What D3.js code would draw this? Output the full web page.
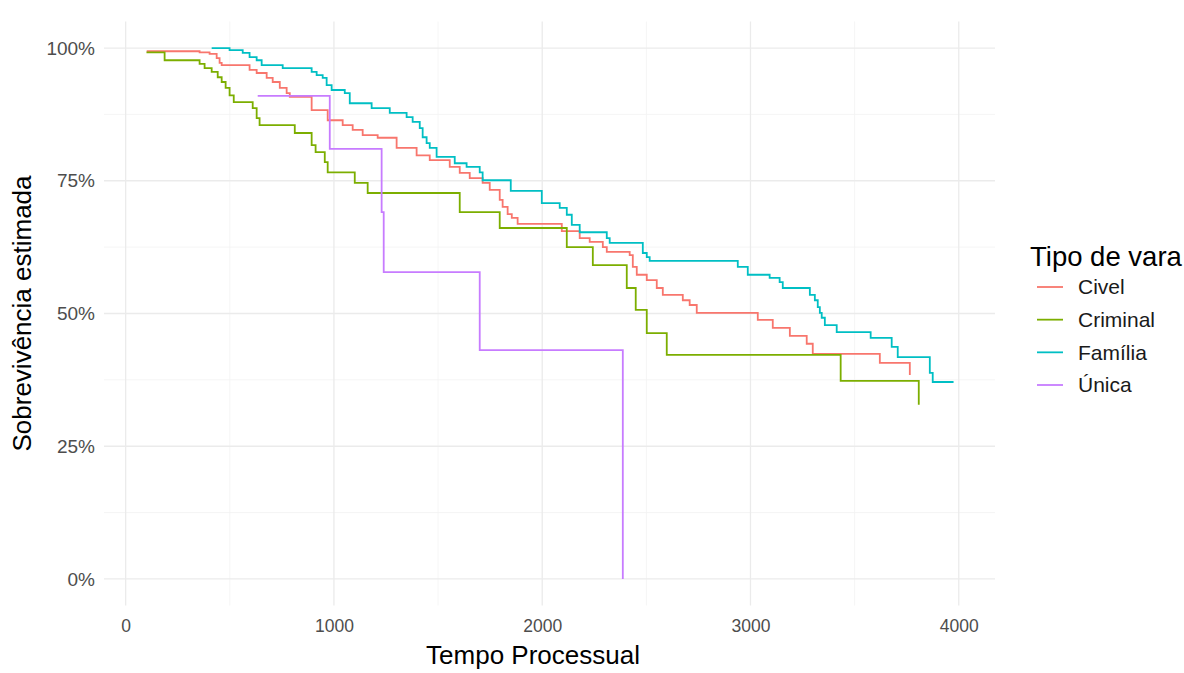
<!DOCTYPE html>
<html>
<head>
<meta charset="utf-8">
<script src="https://cdn.jsdelivr.net/npm/d3@7"></script>
<style>
  html, body { margin: 0; padding: 0; background: #ffffff; }
  svg { display: block; font-family: "Liberation Sans", Arial, sans-serif; }
</style>
</head>
<body>
<svg id="chart" width="1184" height="673"></svg>
<script>
const seriesNames = ["Civel", "Criminal", "Família", "Única"];
const seriesColors = ["#F8766D", "#7CAE00", "#00BFC4", "#C77CFF"];

const civelTime = [101, 355, 403, 437, 451, 461, 595, 629, 677, 706, 740, 773, 788, 893, 970, 1042, 1090, 1138, 1210, 1301, 1397, 1460, 1556, 1604, 1652, 1714, 1748, 1796, 1810, 1834, 1854, 1882, 2094, 2180, 2228, 2291, 2310, 2420, 2435, 2454, 2502, 2550, 2579, 2675, 2708, 2742, 3035, 3107, 3189, 3270, 3299, 3621, 3765];
const civelSurv = [0.994, 0.992, 0.989, 0.981, 0.972, 0.968, 0.959, 0.953, 0.944, 0.936, 0.925, 0.915, 0.908, 0.883, 0.864, 0.855, 0.846, 0.836, 0.831, 0.812, 0.798, 0.789, 0.776, 0.765, 0.755, 0.746, 0.733, 0.714, 0.701, 0.687, 0.680, 0.669, 0.655, 0.642, 0.635, 0.625, 0.616, 0.610, 0.588, 0.573, 0.563, 0.548, 0.535, 0.525, 0.516, 0.501, 0.488, 0.473, 0.458, 0.443, 0.424, 0.407, 0.384];

const criminalTime = [100, 187, 355, 379, 413, 442, 461, 480, 499, 519, 610, 629, 643, 812, 893, 912, 956, 970, 1100, 1162, 1604, 1796, 2118, 2243, 2406, 2449, 2502, 2598, 3433, 3808];
const criminalSurv = [0.992, 0.977, 0.970, 0.962, 0.955, 0.945, 0.936, 0.925, 0.911, 0.898, 0.887, 0.868, 0.855, 0.840, 0.817, 0.804, 0.785, 0.766, 0.746, 0.727, 0.691, 0.661, 0.625, 0.591, 0.548, 0.507, 0.463, 0.422, 0.373, 0.328];

const familiaTime = [413, 499, 562, 595, 629, 653, 754, 893, 917, 946, 965, 989, 1052, 1076, 1181, 1268, 1349, 1378, 1412, 1426, 1445, 1460, 1493, 1580, 1637, 1700, 1714, 1849, 1998, 2084, 2118, 2142, 2180, 2310, 2324, 2483, 2502, 2516, 2939, 2987, 3092, 3140, 3155, 3285, 3309, 3323, 3333, 3342, 3357, 3414, 3577, 3678, 3707, 3861, 3875];
const familiaSurv = [1.000, 0.996, 0.991, 0.983, 0.977, 0.968, 0.962, 0.955, 0.949, 0.944, 0.930, 0.921, 0.915, 0.896, 0.887, 0.878, 0.870, 0.861, 0.849, 0.832, 0.821, 0.812, 0.795, 0.783, 0.776, 0.766, 0.751, 0.731, 0.708, 0.699, 0.686, 0.667, 0.653, 0.642, 0.633, 0.614, 0.606, 0.599, 0.588, 0.573, 0.567, 0.559, 0.548, 0.535, 0.525, 0.512, 0.501, 0.492, 0.478, 0.465, 0.454, 0.437, 0.418, 0.388, 0.371];

const unicaTime = [634, 980, 1229, 1239, 1700, 2387];
const unicaSurv = [0.910, 0.810, 0.691, 0.578, 0.431, 0.000];

// last follow-up time of each group (end of the step line)
const endTimes = [3765, 3808, 3975, 2387];

const xTicks = [0, 1000, 2000, 3000, 4000];
const xMinor = [500, 1500, 2500, 3500];
const yTicks = [0, 0.25, 0.5, 0.75, 1];
const yMinor = [0.125, 0.375, 0.625, 0.875];
const xTitle = "Tempo Processual";
const yTitle = "Sobrevivência estimada";
const legendTitle = "Tipo de vara";

// ---- Build ----
const times = [civelTime, criminalTime, familiaTime, unicaTime];
const survs = [civelSurv, criminalSurv, familiaSurv, unicaSurv];
const series = seriesNames.map((name, i) => {
  const pts = times[i].map((t, j) => ({t: t, s: survs[i][j]}));
  const last = pts[pts.length - 1];
  if (endTimes[i] > last.t) pts.push({t: endTimes[i], s: last.s});
  return {name: name, color: seriesColors[i], pts: pts};
});

const svg = d3.select("#chart");
svg.append("rect").attr("width", 1184).attr("height", 673).attr("fill", "#ffffff");

const panel = {left: 104, right: 995, top: 21.5, bottom: 605.5};
const x = d3.scaleLinear().domain([-104, 4174]).range([panel.left, panel.right]);
const y = d3.scaleLinear().domain([-0.05, 1.05]).range([panel.bottom, panel.top]);

// grid
const grid = svg.append("g");
grid.selectAll(".xminor").data(xMinor).enter().append("line")
  .attr("x1", d => x(d)).attr("x2", d => x(d))
  .attr("y1", panel.top).attr("y2", panel.bottom)
  .attr("stroke", "#f2f2f2").attr("stroke-width", 0.8);
grid.selectAll(".yminor").data(yMinor).enter().append("line")
  .attr("y1", d => y(d)).attr("y2", d => y(d))
  .attr("x1", panel.left).attr("x2", panel.right)
  .attr("stroke", "#f2f2f2").attr("stroke-width", 0.8);
grid.selectAll(".xmajor").data(xTicks).enter().append("line")
  .attr("x1", d => x(d)).attr("x2", d => x(d))
  .attr("y1", panel.top).attr("y2", panel.bottom)
  .attr("stroke", "#ebebeb").attr("stroke-width", 1.3);
grid.selectAll(".ymajor").data(yTicks).enter().append("line")
  .attr("y1", d => y(d)).attr("y2", d => y(d))
  .attr("x1", panel.left).attr("x2", panel.right)
  .attr("stroke", "#ebebeb").attr("stroke-width", 1.3);

// axes (labels only, theme_minimal style)
const xAxis = d3.axisBottom(x).tickValues(xTicks).tickSize(0).tickPadding(0).tickFormat(d3.format("d"));
const gx = svg.append("g").attr("transform", `translate(0,${panel.bottom + 21})`).call(xAxis);
gx.select(".domain").remove();
gx.selectAll("text").attr("fill", "#4d4d4d").attr("font-size", 17.5)
  .attr("font-family", "Liberation Sans, Arial, sans-serif").attr("dy", "0.32em").attr("y", 0);

const yAxis = d3.axisLeft(y).tickValues(yTicks).tickSize(0).tickPadding(0).tickFormat(d3.format(".0%"));
const gy = svg.append("g").attr("transform", `translate(95,0)`).call(yAxis);
gy.select(".domain").remove();
gy.selectAll("text").attr("fill", "#4d4d4d").attr("font-size", 19)
  .attr("font-family", "Liberation Sans, Arial, sans-serif");

// step lines
const line = d3.line().x(d => x(d.t)).y(d => y(d.s)).curve(d3.curveStepAfter);
svg.append("g").selectAll("path").data(series).enter().append("path")
  .attr("d", d => line(d.pts))
  .attr("fill", "none")
  .attr("stroke", d => d.color)
  .attr("stroke-width", 1.8);

// titles
svg.append("text").attr("x", 533).attr("y", 664)
  .attr("text-anchor", "middle").attr("font-size", 26).attr("fill", "#000")
  .text(xTitle);
svg.append("text").attr("transform", `translate(31,${(panel.top + panel.bottom) / 2}) rotate(-90)`)
  .attr("text-anchor", "middle").attr("font-size", 26).attr("fill", "#000")
  .text(yTitle);

// legend
const lg = svg.append("g");
lg.append("text").attr("x", 1030).attr("y", 266).attr("font-size", 27.5).attr("fill", "#000").text(legendTitle);
const ly = d3.scalePoint().domain(seriesNames).range([287, 385]);
const items = lg.selectAll(".item").data(series).enter().append("g");
items.append("line")
  .attr("x1", 1037).attr("x2", 1063)
  .attr("y1", d => ly(d.name)).attr("y2", d => ly(d.name))
  .attr("stroke", d => d.color).attr("stroke-width", 1.8);
items.append("text")
  .attr("x", 1078).attr("y", d => ly(d.name)).attr("dy", "0.35em")
  .attr("font-size", 21).attr("fill", "#1a1a1a")
  .text(d => d.name);
</script>
</body>
</html>
